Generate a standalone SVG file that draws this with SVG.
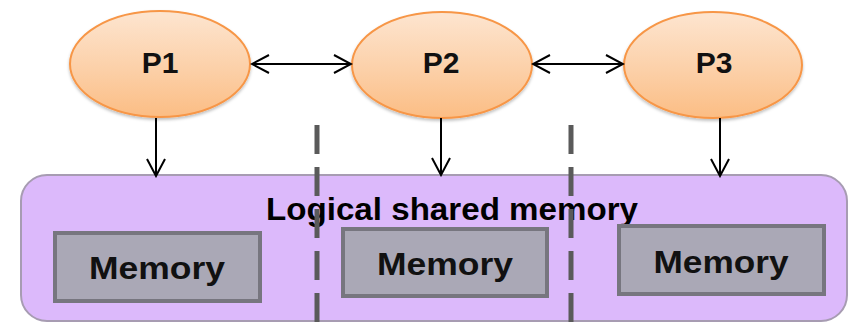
<svg xmlns="http://www.w3.org/2000/svg" width="849" height="323" viewBox="0 0 849 323">
  <style>
    .proc { fill: url(#procFill); stroke: #f79646; stroke-width: 2; filter: url(#soft); }
    .ptext { font-family: "Liberation Sans", Arial, sans-serif; font-weight: bold; font-size: 30px; fill: #111; text-anchor: middle; }
    .mem { fill: #aaa8b6; stroke: #77767f; stroke-width: 4; }
    .mtext { font-family: "Liberation Sans", Arial, sans-serif; font-weight: bold; font-size: 31px; fill: #111; text-anchor: middle; }
    .title { font-family: "Liberation Sans", Arial, sans-serif; font-weight: bold; font-size: 32px; fill: #000; text-anchor: middle; }
    .link { stroke: #000; stroke-width: 2; fill: none; }
    .divider { stroke: #5a5a5a; stroke-width: 5; stroke-dasharray: 29 13; fill: none; }
  </style>
  <defs>
    <linearGradient id="procFill" x1="0" y1="0" x2="0" y2="1">
      <stop offset="0" stop-color="#fde5d0"/>
      <stop offset="0.55" stop-color="#fcd0a8"/>
      <stop offset="1" stop-color="#fbbd84"/>
    </linearGradient>
    <filter id="soft" x="-10%" y="-10%" width="120%" height="130%">
      <feDropShadow dx="0" dy="2" stdDeviation="1.5" flood-color="#000" flood-opacity="0.25"/>
    </filter>
    <marker id="vhead" viewBox="0 0 20 20" refX="18" refY="10" markerWidth="20" markerHeight="20" markerUnits="userSpaceOnUse" orient="auto-start-reverse">
      <path d="M1,1 L18,10 L1,19" fill="none" stroke="#000" stroke-width="2"/>
    </marker>
  </defs>

  <!-- shared memory region -->
  <g id="shared-memory">
    <rect x="21" y="175" width="826" height="146" rx="26" ry="26" fill="#dcb9fb" stroke="#a79cb2" stroke-width="2"/>
    <text class="title" x="452" y="220" textLength="372" lengthAdjust="spacingAndGlyphs">Logical shared memory</text>
  </g>

  <!-- local memories -->
  <g id="memory-1">
    <rect class="mem" x="55" y="233" width="205" height="68"/>
    <text class="mtext" x="157" y="279" textLength="136" lengthAdjust="spacingAndGlyphs">Memory</text>
  </g>
  <g id="memory-2">
    <rect class="mem" x="343" y="229" width="204" height="67"/>
    <text class="mtext" x="445" y="275" textLength="136" lengthAdjust="spacingAndGlyphs">Memory</text>
  </g>
  <g id="memory-3">
    <rect class="mem" x="619" y="226" width="205" height="68"/>
    <text class="mtext" x="721" y="273" textLength="135" lengthAdjust="spacingAndGlyphs">Memory</text>
  </g>

  <!-- partition lines -->
  <g id="partitions">
    <line class="divider" x1="317" y1="125" x2="317" y2="323"/>
    <line class="divider" x1="571" y1="125" x2="571" y2="323"/>
  </g>

  <!-- processors -->
  <g id="p1">
    <ellipse class="proc" cx="160" cy="64" rx="90" ry="53"/>
    <text class="ptext" x="160" y="73">P1</text>
  </g>
  <g id="p2">
    <ellipse class="proc" cx="442" cy="65" rx="90" ry="53"/>
    <text class="ptext" x="441" y="73">P2</text>
  </g>
  <g id="p3">
    <ellipse class="proc" cx="713" cy="65" rx="89" ry="53"/>
    <text class="ptext" x="714" y="73">P3</text>
  </g>

  <!-- connectors -->
  <g id="connectors">
    <line class="link" x1="252" y1="64" x2="351" y2="64" marker-start="url(#vhead)" marker-end="url(#vhead)"/>
    <line class="link" x1="533" y1="64" x2="623" y2="64" marker-start="url(#vhead)" marker-end="url(#vhead)"/>
    <line class="link" x1="156" y1="118" x2="156" y2="176" marker-end="url(#vhead)"/>
    <line class="link" x1="441" y1="118" x2="441" y2="175" marker-end="url(#vhead)"/>
    <line class="link" x1="720" y1="118" x2="720" y2="176" marker-end="url(#vhead)"/>
  </g>
</svg>
